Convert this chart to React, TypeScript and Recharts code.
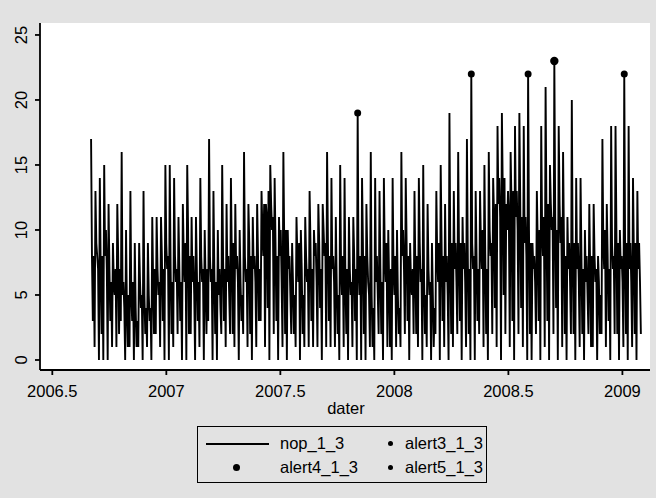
import React from "react";
import {
  ComposedChart,
  Line,
  Scatter,
  XAxis,
  YAxis,
  CartesianGrid,
} from "recharts";

// weekly pattern: peak, mid, mid/dip, mid, low (5 values per week)
const nop2006 = [
  17, 8, 3, 8, 1,
  13, 9, 8, 7, 0,
  14, 7, 2, 8, 0,
  15, 8, 10, 7, 0,
  12, 7, 3, 6, 1,
  9, 6, 5, 7, 1,
  12, 8, 2, 7, 3,
  16, 5, 6, 4, 0,
  10, 4, 1, 5, 1,
  13, 5, 3, 6, 0,
  9, 4, 1, 3, 1,
  9, 6, 4, 5, 0,
  13, 5, 2, 4, 1,
  9, 5, 3, 4, 0,
  11, 6, 2, 7, 2,
  11, 7, 5, 6, 1,
  11, 8, 3, 7, 0,
];

const nop2007 = [
  15, 9, 7, 8, 0,
  15, 7, 2, 6, 1,
  14, 8, 6, 7, 2,
  11, 7, 3, 6, 0,
  12, 8, 6, 9, 0,
  15, 10, 2, 8, 2,
  11, 6, 8, 5, 0,
  11, 7, 3, 6, 1,
  14, 8, 6, 7, 0,
  10, 6, 2, 7, 3,
  17, 8, 6, 7, 0,
  13, 7, 2, 6, 0,
  10, 5, 7, 4, 2,
  15, 8, 3, 7, 1,
  12, 6, 8, 5, 2,
  14, 8, 2, 9, 1,
  12, 7, 8, 6, 0,
  10, 6, 3, 5, 2,
  16, 8, 6, 7, 1,
  12, 9, 2, 8, 0,
  11, 7, 8, 6, 1,
  12, 8, 3, 7, 3,
  13, 10, 8, 12, 1,
  12, 11, 4, 13, 0,
  15, 12, 10, 11, 2,
  14, 9, 3, 8, 0,
  11, 8, 10, 6, 1,
  16, 9, 2, 10, 0,
  10, 7, 8, 5, 2,
  9, 6, 2, 5, 1,
  11, 8, 6, 9, 0,
  10, 7, 2, 5, 1,
  11, 8, 6, 7, 1,
  13, 9, 3, 7, 1,
  10, 8, 9, 6, 1,
  12, 9, 4, 7, 0,
  12, 10, 8, 9, 1,
  16, 9, 3, 8, 1,
  14, 7, 8, 6, 1,
  11, 6, 2, 5, 0,
  15, 7, 5, 8, 1,
  14, 6, 2, 7, 0,
  11, 7, 5, 6, 1,
  11, 8, 3, 7, 0,
  19, 7, 5, 8, 0,
  14, 9, 2, 8, 0,
  12, 8, 6, 5, 1,
  16, 5, 1, 4, 0,
  14, 6, 8, 5, 2,
  13, 7, 2, 6, 0,
  14, 8, 6, 9, 1,
  10, 6, 1, 7, 0,
  14, 7, 5, 8, 1,
];

const nop2008 = [
  10, 5, 2, 4, 1,
  16, 8, 10, 7, 2,
  14, 9, 3, 8, 0,
  9, 6, 5, 7, 2,
  13, 7, 2, 8, 1,
  14, 9, 6, 7, 0,
  15, 6, 2, 5, 1,
  12, 7, 5, 6, 0,
  9, 5, 1, 4, 2,
  13, 8, 6, 9, 0,
  15, 9, 3, 8, 1,
  12, 6, 8, 5, 0,
  19, 8, 2, 9, 1,
  13, 7, 9, 6, 2,
  16, 8, 3, 9, 0,
  11, 7, 9, 6, 1,
  17, 8, 2, 7, 0,
  22, 9, 7, 8, 0,
  13, 8, 3, 7, 2,
  13, 9, 7, 10, 1,
  15, 8, 2, 7, 0,
  16, 10, 8, 9, 2,
  14, 11, 4, 12, 1,
  18, 12, 14, 11, 0,
  19, 13, 5, 14, 2,
  12, 10, 13, 11, 1,
  16, 12, 3, 13, 0,
  18, 11, 13, 10, 2,
  19, 12, 4, 11, 1,
  18, 9, 11, 8, 0,
  22, 10, 2, 9, 0,
  9, 7, 8, 6, 2,
  13, 9, 3, 10, 0,
  18, 10, 8, 11, 1,
  21, 11, 3, 12, 0,
  15, 12, 10, 11, 2,
  23, 11, 4, 10, 0,
  18, 12, 9, 11, 1,
  16, 9, 2, 8, 0,
  11, 7, 9, 6, 2,
  20, 8, 2, 9, 0,
  14, 7, 9, 6, 1,
  14, 8, 2, 7, 0,
  10, 6, 8, 5, 2,
  12, 7, 1, 8, 1,
  12, 8, 6, 7, 0,
  8, 6, 2, 5, 2,
  17, 9, 7, 10, 1,
  12, 8, 3, 7, 0,
  18, 9, 7, 8, 2,
  18, 10, 2, 9, 0,
  10, 7, 8, 6, 1,
];

const nop2009 = [
  22, 8, 2, 9, 0,
  18, 7, 9, 6, 1,
  14, 8, 2, 9, 0,
  13, 7, 9, 6, 2,
];

// week numbers (from the first week) where alerts fired
const alert3Weeks = [61, 87];
const alert4Weeks = [106];
const alert5Weeks = [100, 122];

const xTicks = [2006.5, 2007, 2007.5, 2008, 2008.5, 2009];
const yTicks = [0, 5, 10, 15, 20, 25];

const START = 2006.67;
const WEEK = 7 / 365.25;
const PER_WEEK = 5;

const nopAll = [...nop2006, ...nop2007, ...nop2008, ...nop2009];
const data = nopAll.map((v, k) => ({
  date: START + Math.floor(k / PER_WEEK) * WEEK + ((k % PER_WEEK) * WEEK) / PER_WEEK,
  nop: v,
}));

const alertPoints = (weeks: number[]) =>
  weeks.map((w) => ({ date: START + w * WEEK, nop: nopAll[w * PER_WEEK] }));

const FONT = "'Liberation Sans', Arial, Helvetica, sans-serif";

const dot = (r: number) => (props: any) =>
  <circle cx={props.cx} cy={props.cy} r={r} fill="#000" />;

const YTick = (props: any) => {
  const { y, payload } = props;
  return (
    <text
      x={21}
      y={y}
      transform={`rotate(-90, 21, ${y})`}
      textAnchor="middle"
      dominantBaseline="central"
      fontSize={16.5}
      fontFamily={FONT}
      fill="#000"
    >
      {payload.value}
    </text>
  );
};

function ChartLegend() {
  const text = { position: "absolute" as const, fontSize: 16.5, lineHeight: "18px" };
  return (
    <div
      style={{
        position: "absolute",
        left: 197,
        top: 426,
        width: 288,
        height: 55,
        border: "1.5px solid #000",
        fontFamily: FONT,
      }}
    >
      <div style={{ position: "absolute", left: 8, top: 16, width: 63, height: 1.5, background: "#000" }} />
      <span style={{ ...text, left: 82, top: 7 }}>nop_1_3</span>
      <div style={{ position: "absolute", left: 190, top: 14, width: 5, height: 5, borderRadius: "50%", background: "#000" }} />
      <span style={{ ...text, left: 207, top: 7 }}>alert3_1_3</span>
      <div style={{ position: "absolute", left: 35, top: 37, width: 7, height: 7, borderRadius: "50%", background: "#000" }} />
      <span style={{ ...text, left: 82, top: 31 }}>alert4_1_3</span>
      <div style={{ position: "absolute", left: 190, top: 38, width: 5, height: 5, borderRadius: "50%", background: "#000" }} />
      <span style={{ ...text, left: 207, top: 31 }}>alert5_1_3</span>
    </div>
  );
}

export default function App() {
  return (
    <div
      style={{
        position: "absolute",
        left: 0,
        top: 0,
        width: 656,
        height: 498,
        background: "#e2e2e2",
        fontFamily: FONT,
      }}
    >
      <ComposedChart
        width={656}
        height={498}
        data={data}
        margin={{ top: 23, right: 6, left: 0, bottom: 98 }}
      >
        <CartesianGrid fill="#ffffff" stroke="none" horizontal={false} vertical={false} />
        <XAxis
          type="number"
          dataKey="date"
          domain={[2006.446, 2009.121]}
          ticks={xTicks}
          allowDataOverflow
          height={30}
          tickSize={5}
          tickMargin={10}
          stroke="#000"
          strokeWidth={1.8}
          tick={{ fill: "#000", fontSize: 16.5, fontFamily: FONT }}
        />
        <YAxis
          type="number"
          domain={[-0.77, 25.92]}
          ticks={yTicks}
          allowDataOverflow
          width={40}
          tickSize={5}
          stroke="#000"
          strokeWidth={1.8}
          tick={<YTick />}
        />
        <Line
          type="linear"
          dataKey="nop"
          stroke="#000"
          strokeWidth={1.9}
          dot={false}
          activeDot={false}
          isAnimationActive={false}
        />
        <Scatter data={alertPoints(alert3Weeks)} dataKey="nop" shape={dot(3.5)} isAnimationActive={false} />
        <Scatter data={alertPoints(alert4Weeks)} dataKey="nop" shape={dot(4.2)} isAnimationActive={false} />
        <Scatter data={alertPoints(alert5Weeks)} dataKey="nop" shape={dot(3.5)} isAnimationActive={false} />
      </ComposedChart>
      <div
        style={{
          position: "absolute",
          left: 0,
          width: 656,
          top: 399,
          textAlign: "center",
          paddingLeft: 36,
          boxSizing: "border-box",
          fontSize: 16.5,
          lineHeight: "18px",
        }}
      >
        dater
      </div>
      <ChartLegend />
    </div>
  );
}
